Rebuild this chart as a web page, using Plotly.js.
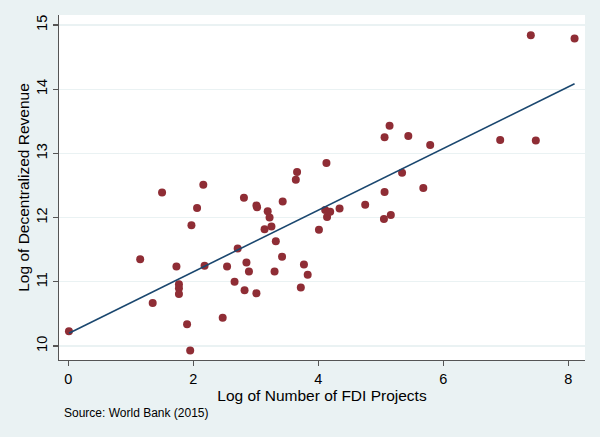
<!DOCTYPE html>
<html>
<head>
<meta charset="utf-8">
<script src="https://cdn.plot.ly/plotly-3.0.1.min.js"></script>
<style>html,body{margin:0;padding:0;background:#eaf2f3;}#chart{width:600px;height:437px;}</style>
</head>
<body>
<div id="chart"></div>
<script>
// Log of Number of FDI Projects
var logFDI = [0.01, 1.15, 1.35, 1.50, 1.73, 1.77, 1.77, 1.77, 1.90, 1.95,
  1.97, 2.06, 2.16, 2.18, 2.47, 2.54, 2.66, 2.71, 2.81, 2.82,
  2.85, 2.89, 3.01, 3.02, 3.01, 3.14, 3.19, 3.22, 3.25, 3.30,
  3.32, 3.42, 3.43, 3.64, 3.66, 3.72, 3.77, 3.83, 4.01, 4.11,
  4.13, 4.14, 4.19, 4.34, 4.75, 5.05, 5.06, 5.06, 5.14, 5.16,
  5.34, 5.44, 5.68, 5.79, 6.91, 7.40, 7.48, 8.10];
// Log of Decentralized Revenue
var logRevenue = [10.23, 11.35, 10.67, 12.39, 11.24, 10.96, 10.90, 10.81, 10.34, 9.93,
  11.88, 12.15, 12.51, 11.25, 10.44, 11.24, 11.00, 11.52, 12.31, 10.87,
  11.30, 11.16, 12.19, 12.16, 10.82, 11.82, 12.10, 12.00, 11.86, 11.16,
  11.63, 11.39, 12.25, 12.59, 12.71, 10.91, 11.27, 11.11, 11.81, 12.12,
  12.85, 12.01, 12.09, 12.14, 12.20, 11.98, 12.40, 13.25, 13.43, 12.04,
  12.70, 13.27, 12.46, 13.13, 13.21, 14.84, 13.20, 14.79];
var xTicks = [0, 2, 4, 6, 8];
var yTicks = [10, 11, 12, 13, 14, 15];

// OLS fit (linear fit line)
var n = logFDI.length, sx = 0, sy = 0, sxx = 0, sxy = 0;
for (var i = 0; i < n; i++) { sx += logFDI[i]; sy += logRevenue[i]; sxx += logFDI[i]*logFDI[i]; sxy += logFDI[i]*logRevenue[i]; }
var slope = (n*sxy - sx*sy) / (n*sxx - sx*sx);
var intercept = (sy - slope*sx) / n;
var xmin = Math.min.apply(null, logFDI), xmax = Math.max.apply(null, logFDI);
var fitX = [xmin, xmax];
var fitY = fitX.map(function(v){ return intercept + slope*v; });

var font = "Liberation Sans, Arial, Helvetica, sans-serif";
var data = [
  {x: logFDI, y: logRevenue, type: 'scatter', mode: 'markers',
   marker: {color: '#8f2d35', size: 8, line: {width: 0}}, hoverinfo: 'x+y'},
  {x: fitX, y: fitY, type: 'scatter', mode: 'lines',
   line: {color: '#1a476f', width: 1.6}}
];
var layout = {
  width: 600, height: 437,
  margin: {l: 59, r: 15, t: 15, b: 77},
  paper_bgcolor: '#eaf2f3', plot_bgcolor: '#ffffff',
  showlegend: false,
  font: {family: font, color: '#000000'},
  xaxis: {range: [-0.149, 8.267], tickvals: xTicks, ticktext: xTicks.map(String),
    showgrid: false, zeroline: false, showline: true, linecolor: '#555555', linewidth: 1.3,
    ticks: 'outside', ticklen: 5, tickcolor: '#555555', tickwidth: 1.3,
    tickfont: {size: 14.5, family: font},
    title: {text: 'Log of Number of FDI Projects', font: {size: 15.5, family: font}, standoff: 4}},
  yaxis: {range: [9.782, 15.156], tickvals: yTicks, ticktext: yTicks.map(String),
    showgrid: true, gridcolor: '#eaf2f3', gridwidth: 1.2, zeroline: false,
    showline: true, linecolor: '#555555', linewidth: 1.3,
    ticks: 'outside', ticklen: 5, tickcolor: '#555555', tickwidth: 1.3,
    tickangle: -90, tickfont: {size: 14.5, family: font},
    title: {text: 'Log of Decentralized Revenue', font: {size: 15.5, family: font}, standoff: 0}},
  annotations: [{text: 'Source: World Bank (2015)', xref: 'paper', yref: 'paper',
    x: 0.005, y: -0.155, xanchor: 'left', yanchor: 'middle', showarrow: false,
    font: {size: 12, family: font, color: '#000000'}}]
};
Plotly.newPlot('chart', data, layout, {displayModeBar: false, staticPlot: true});
</script>
</body>
</html>
